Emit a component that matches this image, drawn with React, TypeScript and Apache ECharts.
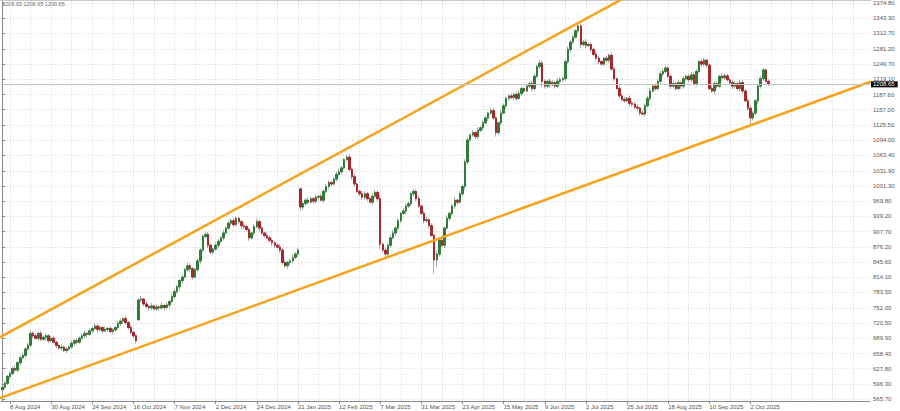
import React, { useEffect, useRef } from 'react';
import * as echarts from 'echarts';

// ---- data ----
const dateLabels = [
  '8 Aug 2024', '30 Aug 2024', '24 Sep 2024', '16 Oct 2024', '7 Nov 2024', '2 Dec 2024',
  '24 Dec 2024', '21 Jan 2025', '12 Feb 2025', '7 Mar 2025', '31 Mar 2025', '23 Apr 2025',
  '15 May 2025', '9 Jun 2025', '2 Jul 2025', '25 Jul 2025', '18 Aug 2025', '10 Sep 2025', '2 Oct 2025',
];
const firstLabelBar = 3;
const barsPerLabel = 16;
const barsPerGridLine = 8;
const totalSlots = 338;

const yTickValues = [
  565.7, 596.3, 627.8, 658.4, 689.9, 720.5, 752.0, 783.5, 814.1, 845.6, 876.2, 907.7, 939.2,
  969.8, 1001.3, 1031.9, 1063.4, 1094.0, 1125.5, 1157.0, 1187.6, 1219.1, 1249.7, 1281.2,
  1312.7, 1343.3, 1374.8,
];
const yMin = 561.8;
const yMax = 1378.3;

const closes = [
  590, 598, 612, 618, 628, 625, 640, 650, 655, 668,
  676, 700, 695, 690, 700, 688, 692, 695, 685, 690,
  682, 675, 670, 672, 665, 668, 672, 680, 685, 682,
  690, 695, 700, 698, 705, 710, 715, 708, 712, 705,
  708, 710, 704, 707, 712, 720, 725, 730, 722, 712,
  702, 695, 685, 768, 770, 760, 755, 752, 756, 750,
  754, 752, 757, 753, 758, 765, 775, 785, 795, 808,
  815, 830, 838, 832, 815, 830, 848, 870, 898, 902,
  880, 866, 872, 880, 888, 895, 905, 915, 925, 930,
  922, 935, 928, 920, 918, 912, 895, 905, 918, 928,
  915, 905, 900, 895, 890, 885, 880, 876, 870, 845,
  838, 845, 848, 855, 862, 870, 958, 965, 972, 968,
  975, 970, 978, 980, 972, 990, 1000, 1008, 1005, 1015,
  1025, 1030, 1038, 1055, 1060, 1035, 1020, 1005, 990, 985,
  978, 985, 975, 968, 980, 988, 975, 882, 870, 862,
  880, 895, 905, 915, 930, 945, 950, 960, 965, 985,
  990, 975, 960, 945, 930, 932, 920, 900, 850, 862,
  890, 880, 915, 935, 945, 960, 972, 968, 985, 1000,
  1050, 1095, 1105, 1110, 1102, 1115, 1120, 1130, 1140, 1150,
  1155, 1140, 1110, 1130, 1150, 1165, 1180, 1185, 1182, 1188,
  1180, 1190, 1200, 1195, 1205, 1210, 1200, 1225, 1245, 1252,
  1215, 1205, 1215, 1208, 1212, 1205, 1215, 1218, 1220, 1255,
  1280, 1295, 1305, 1318, 1328, 1290, 1295, 1288, 1290, 1280,
  1270, 1262, 1255, 1250, 1262, 1258, 1268, 1240, 1220, 1200,
  1185, 1178, 1175, 1180, 1170, 1168, 1162, 1160, 1150, 1148,
  1165, 1180, 1195, 1205, 1200, 1215, 1230, 1235, 1242, 1225,
  1205, 1210, 1200, 1212, 1205, 1220, 1225, 1218, 1228, 1210,
  1235, 1255, 1250, 1258, 1248, 1200, 1195, 1210, 1205, 1225,
  1222, 1226, 1218, 1212, 1205, 1210, 1200, 1212, 1195, 1175,
  1160, 1140, 1150, 1175, 1205, 1220, 1238, 1215, 1208.65,
];
// opening prices of bars that do not open at the previous close
const gapOpens: Record<number, number> = { 0: 585, 53: 728, 116: 995 };

const wickUp = [
  4, 6, 3, 5, 4, 7, 3, 5, 6, 4,
  5, 6, 4, 5, 3, 6, 4, 5, 3, 4,
  5, 3, 4, 6, 3, 5, 4, 6, 3, 5,
  4, 5, 6, 3, 5, 4, 6, 3, 5, 4,
  6, 3, 5, 4, 3, 6, 5, 4, 6, 3,
  5, 4, 3, 4, 6, 3, 5, 4, 6, 3,
  5, 4, 6, 3, 5, 4, 6, 5, 4, 3,
  5, 4, 6, 5, 3, 4, 6, 5, 4, 6,
  5, 4, 3, 6, 5, 4, 6, 3, 5, 4,
  6, 5, 3, 4, 6, 5, 4, 3, 5, 6,
  4, 5, 3, 6, 4, 5, 3, 4, 6, 5,
  4, 3, 5, 6, 4, 5, 3, 5, 4, 6,
  5, 4, 6, 3, 5, 4, 6, 5, 3, 4,
  5, 6, 4, 3, 5, 6, 4, 5, 3, 4,
  6, 5, 4, 3, 6, 5, 4, 8, 5, 6,
  4, 5, 6, 4, 5, 3, 6, 5, 4, 3,
  5, 4, 6, 3, 5, 6, 4, 5, 3, 6,
  4, 5, 3, 6, 4, 5, 6, 3, 5, 4,
  6, 5, 4, 5, 3, 6, 4, 5, 4, 3,
  6, 5, 4, 3, 6, 5, 4, 3, 5, 4,
  5, 6, 4, 3, 5, 4, 6, 5, 4, 6,
  5, 4, 3, 6, 5, 4, 6, 5, 4, 3,
  6, 5, 4, 3, 6, 5, 4, 6, 3, 5,
  4, 6, 5, 4, 3, 5, 4, 6, 5, 3,
  6, 4, 5, 3, 6, 5, 4, 5, 3, 6,
  4, 5, 6, 3, 5, 4, 6, 5, 4, 3,
  5, 6, 4, 5, 3, 6, 4, 5, 6, 4,
  5, 4, 6, 5, 3, 4, 6, 5, 4, 3,
  6, 5, 4, 3, 6, 5, 4, 6, 5, 4,
  5, 6, 4, 3, 5, 6, 4, 3, 4,
];
const wickDn = [
  8, 5, 4, 6, 3, 5, 4, 6, 3, 5,
  4, 5, 6, 3, 5, 4, 3, 6, 5, 4,
  3, 5, 4, 6, 3, 5, 4, 3, 6, 5,
  4, 3, 5, 6, 4, 5, 3, 6, 4, 5,
  3, 5, 4, 6, 3, 4, 5, 6, 4, 5,
  4, 5, 6, 3, 4, 5, 4, 6, 5, 3,
  4, 6, 3, 5, 4, 6, 3, 5, 4, 6,
  5, 3, 4, 6, 5, 3, 4, 6, 5, 4,
  6, 4, 5, 3, 6, 4, 5, 3, 4, 6,
  5, 3, 4, 6, 5, 4, 6, 3, 5, 4,
  6, 4, 5, 3, 4, 6, 5, 3, 6, 5,
  4, 6, 5, 3, 4, 5, 8, 6, 5, 4,
  3, 5, 4, 6, 3, 5, 4, 6, 5, 3,
  5, 4, 6, 3, 5, 4, 6, 5, 3, 4,
  5, 6, 4, 3, 5, 4, 6, 10, 5, 6,
  4, 5, 3, 6, 4, 5, 3, 6, 4, 5,
  6, 4, 5, 3, 6, 4, 5, 3, 28, 15,
  5, 4, 6, 3, 5, 4, 6, 5, 3, 4,
  6, 5, 4, 3, 5, 6, 4, 5, 3, 6,
  4, 5, 8, 5, 4, 3, 6, 5, 4, 6,
  5, 4, 6, 5, 3, 4, 6, 5, 4, 5,
  12, 5, 4, 6, 3, 5, 4, 6, 5, 4,
  5, 6, 4, 3, 5, 8, 4, 6, 3, 5,
  4, 5, 6, 3, 4, 5, 6, 4, 5, 3,
  6, 5, 4, 3, 6, 5, 4, 6, 5, 3,
  5, 4, 6, 3, 5, 4, 6, 5, 4, 3,
  6, 5, 4, 3, 6, 5, 4, 6, 5, 4,
  5, 4, 6, 5, 6, 3, 4, 6, 5, 4,
  6, 5, 4, 3, 6, 5, 4, 6, 5, 3,
  6, 12, 5, 4, 6, 5, 4, 3, 4,
];

// trend lines as [bar index, price]
const upperTrend = [[-1, 691.8], [260, 1436.7]];
const lowerTrend = [[-1, 567.7], [338, 1214.5]];
const lastPrice = 1208.65;

const FONT = '"Liberation Sans", Arial, sans-serif';

export default function App() {
  const ref = useRef<HTMLDivElement>(null);
  useEffect(() => {
    if (!ref.current) return;
    const chart = echarts.init(ref.current, undefined, { renderer: 'svg' });

    const categories: string[] = [];
    for (let i = 0; i < totalSlots; i++) categories.push(String(i));

    const ohlc: number[][] = [];
    const bodies: number[][] = [];
    closes.forEach((c, i) => {
      const o = gapOpens[i] !== undefined ? gapOpens[i] : closes[i - 1];
      const lo = Math.min(o, c);
      const hi = Math.max(o, c);
      ohlc.push([o, c, lo - wickDn[i], hi + wickUp[i]]);
      bodies.push([o, c, lo, hi]);
    });

    const isLabel = (idx: number) =>
      idx >= firstLabelBar && (idx - firstLabelBar) % barsPerLabel === 0 &&
      (idx - firstLabelBar) / barsPerLabel < dateLabels.length;

    const gridValues: number[] = [];
    for (let i = firstLabelBar; i < totalSlots; i += barsPerGridLine) gridValues.push(i);

    const option: any = {
      animation: false,
      backgroundColor: '#ffffff',
      textStyle: { fontFamily: FONT },
      grid: { left: 1, right: 30, top: 0, bottom: 10, containLabel: false },
      graphic: [
        {
          type: 'text', left: 2, top: 1,
          style: {
            text: [lastPrice, lastPrice, lastPrice].map((v) => v.toFixed(2)).join(' '),
            fontSize: 5.5, fill: '#666', fontFamily: FONT,
          },
        },
        {
          type: 'line', silent: true,
          shape: { x1: 0, y1: 0.5, x2: 871, y2: 0.5 },
          style: { stroke: '#c8c8c8', lineWidth: 1 },
        },
      ],
      xAxis: [
        {
          type: 'category',
          data: categories,
          boundaryGap: true,
          axisLine: { show: true, lineStyle: { color: '#8a8a8a', width: 1 } },
          axisTick: {
            show: true, alignWithLabel: true, length: 3,
            interval: (idx: number) => isLabel(idx),
            lineStyle: { color: '#8a8a8a' },
          },
          axisLabel: {
            show: true,
            interval: (idx: number) => isLabel(idx),
            formatter: (_v: string, idx: number) =>
              isLabel(idx) ? dateLabels[(idx - firstLabelBar) / barsPerLabel] : '',
            align: 'left', margin: 3, fontSize: 6, color: '#555', fontFamily: FONT,
          },
          splitLine: { show: false },
        },
        {
          type: 'value',
          min: -0.5,
          max: totalSlots - 0.5,
          show: true,
          axisLine: { show: false },
          axisLabel: { show: false },
          axisTick: { show: false, customValues: gridValues },
          splitLine: { show: true, lineStyle: { color: '#d6d6d6', type: [1, 2], width: 1 } },
        },
      ],
      yAxis: {
        type: 'value',
        position: 'right',
        min: yMin,
        max: yMax,
        axisLine: { show: true, lineStyle: { color: '#8a8a8a', width: 1 } },
        axisTick: { show: true, length: 3, customValues: yTickValues, lineStyle: { color: '#8a8a8a' } },
        axisLabel: {
          show: true, customValues: yTickValues,
          formatter: (v: number) => v.toFixed(2),
          fontSize: 6, color: '#555', margin: 3, fontFamily: FONT,
        },
        splitLine: { show: true, lineStyle: { color: '#d6d6d6', type: [1, 2], width: 1 } },
      },
      series: [
        {
          type: 'candlestick',
          name: 'wicks',
          xAxisIndex: 0,
          data: ohlc,
          barWidth: 2,
          silent: true,
          itemStyle: {
            color: '#ababab', color0: '#ababab',
            borderColor: '#ababab', borderColor0: '#ababab', borderWidth: 1,
          },
        },
        {
          type: 'candlestick',
          name: 'bodies',
          xAxisIndex: 0,
          data: bodies,
          barWidth: 2,
          silent: true,
          itemStyle: {
            color: '#2f7d36', color0: '#a8282e',
            borderColor: '#2f7d36', borderColor0: '#a8282e', borderWidth: 1,
          },
          markLine: {
            silent: true,
            symbol: ['none', 'none'],
            data: [{ yAxis: lastPrice }],
            lineStyle: { color: '#c4c4c4', type: 'solid', width: 1 },
            label: {
              show: true, position: 'end', distance: 1,
              formatter: () => lastPrice.toFixed(2),
              backgroundColor: '#000', color: '#fff', fontSize: 6,
              padding: [0, 3, 0, 2], lineHeight: 6, fontFamily: FONT,
            },
          },
        },
        {
          type: 'line',
          name: 'upper channel',
          xAxisIndex: 1,
          data: upperTrend,
          symbol: 'none',
          clip: true,
          silent: true,
          lineStyle: { color: '#f7a21b', width: 2.5 },
        },
        {
          type: 'line',
          name: 'lower channel',
          xAxisIndex: 1,
          data: lowerTrend,
          symbol: 'none',
          clip: true,
          silent: true,
          lineStyle: { color: '#f7a21b', width: 2.5 },
        },
      ],
    };
    chart.setOption(option);
    return () => chart.dispose();
  }, []);

  return (
    <div
      ref={ref}
      style={{ position: 'fixed', left: 0, top: 0, width: 900, height: 411, background: '#fff' }}
    />
  );
}
